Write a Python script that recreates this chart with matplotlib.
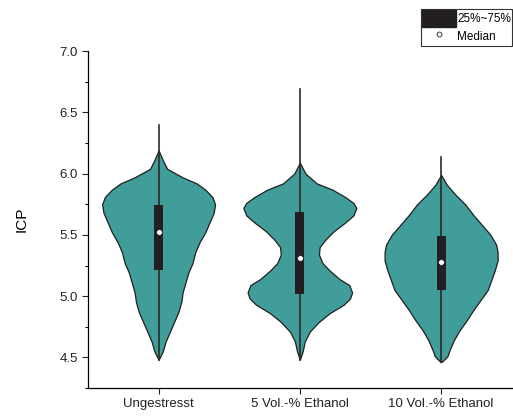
import numpy as np
import matplotlib.pyplot as plt
from matplotlib.patches import Patch
from matplotlib.lines import Line2D

plt.rcParams['font.family'] = ['Liberation Sans', 'DejaVu Sans']

groups = ['Ungestresst', '5 Vol.-% Ethanol', '10 Vol.-% Ethanol']

# violin outlines: ICP value and half width (x units)
prof_y = [
    [6.19, 6.11, 6.04, 5.97, 5.92, 5.87, 5.81, 5.75, 5.68, 5.60, 5.52, 5.44, 5.36, 5.27,
     5.19, 5.11, 5.03, 4.95, 4.87, 4.79, 4.71, 4.63, 4.55, 4.48],
    [6.09, 6.00, 5.92, 5.87, 5.81, 5.76, 5.72, 5.66, 5.60, 5.53, 5.46, 5.40, 5.34, 5.27,
     5.21, 5.14, 5.09, 5.03, 4.98, 4.93, 4.86, 4.79, 4.71, 4.63, 4.55, 4.48],
    [5.99, 5.91, 5.83, 5.75, 5.66, 5.58, 5.50, 5.42, 5.36, 5.29, 5.21, 5.13, 5.05, 4.97,
     4.89, 4.80, 4.72, 4.64, 4.56, 4.51, 4.48, 4.46],
]
prof_w = [
    [0.00, 0.03, 0.06, 0.17, 0.27, 0.33, 0.38, 0.40, 0.39, 0.36, 0.33, 0.29, 0.26, 0.24,
     0.21, 0.19, 0.17, 0.16, 0.14, 0.11, 0.08, 0.05, 0.03, 0.00],
    [0.00, 0.04, 0.12, 0.23, 0.32, 0.38, 0.40, 0.38, 0.32, 0.24, 0.18, 0.14, 0.135, 0.16,
     0.21, 0.28, 0.35, 0.37, 0.355, 0.31, 0.21, 0.135, 0.07, 0.035, 0.02, 0.00],
    [0.00, 0.04, 0.10, 0.17, 0.23, 0.29, 0.35, 0.39, 0.40, 0.40, 0.38, 0.355, 0.33, 0.28,
     0.23, 0.18, 0.13, 0.09, 0.06, 0.045, 0.02, 0.00],
]

q1 = [5.21, 5.02, 5.05]
q3 = [5.74, 5.69, 5.49]
median = [5.52, 5.31, 5.28]
wmin = [4.48, 4.48, 4.46]
wmax = [6.40, 6.69, 6.14]

fig = plt.figure(figsize=(5.13, 4.16), dpi=100)
ax = fig.add_axes([0.1715, 0.0673, 0.826, 0.8097])

teal = '#409d99'
for i in range(3):
    x = i + 1
    y = np.array(prof_y[i])
    w = np.array(prof_w[i])
    ax.fill_betweenx(y, x - w, x + w, facecolor=teal, edgecolor='#1e1e1e', linewidth=0.9, zorder=2)
    ax.plot([x, x], [wmin[i], wmax[i]], color='#2a2a2a', linewidth=1.2, zorder=3)
    ax.bar(x, q3[i] - q1[i], bottom=q1[i], width=0.065, color='#231f20', zorder=4)
    ax.scatter([x], [median[i]], s=18, color='white', edgecolor='#231f20', linewidth=0.6, zorder=5)

ax.set_xlim(0.5, 3.5)
ax.set_ylim(4.28, 7.0)
ax.set_xticks([1, 2, 3])
ax.set_xticklabels(groups, fontsize=9.5)
ax.set_yticks(np.arange(4.5, 7.01, 0.5))
ax.set_yticks(np.arange(4.25, 7.0, 0.25), minor=True)
ax.yaxis.set_major_formatter(plt.FormatStrFormatter('%.1f'))
ax.tick_params(axis='y', labelsize=9.5, direction='out', length=4, width=0.8, colors='#222222')
ax.tick_params(axis='y', which='minor', length=2.5, width=0.8)
ax.tick_params(axis='x', direction='out', length=4, width=0.8, colors='#222222')
ax.spines['top'].set_visible(False)
ax.spines['right'].set_visible(False)
ax.spines['left'].set_linewidth(0.9)
ax.spines['bottom'].set_linewidth(0.9)
ax.set_ylabel('ICP', fontsize=11, labelpad=22)

handles = [Patch(facecolor='#231f20', edgecolor='#231f20'),
           Line2D([], [], marker='o', linestyle='none', markersize=3.5,
                  markerfacecolor='white', markeredgecolor='#231f20', markeredgewidth=0.6)]
leg = fig.legend(handles, ['25%~75%', 'Median'], loc='upper right',
                 bbox_to_anchor=(0.999, 0.978), fontsize=8.5, frameon=True, fancybox=False,
                 handlelength=2.9, handleheight=1.8, handletextpad=0.1, borderpad=0.1,
                 labelspacing=0.05, borderaxespad=0.0)
leg.get_frame().set_edgecolor('black')
leg.get_frame().set_linewidth(0.8)

fig.savefig('out.png', dpi=100)
